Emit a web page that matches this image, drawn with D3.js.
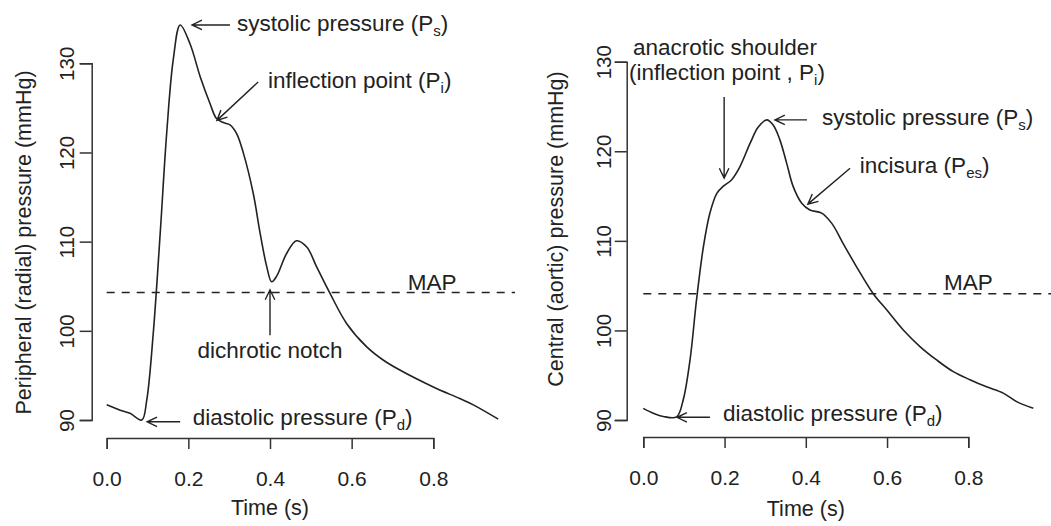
<!DOCTYPE html>
<html><head><meta charset="utf-8">
<script src="https://cdn.jsdelivr.net/npm/d3@7"></script>
<style>
body{margin:0;background:#fff;}
text{font-family:"Liberation Sans",Arial,Helvetica,sans-serif;fill:#222;}
</style></head>
<body><svg id="c" width="1051" height="526"></svg>
<script>
// ---- data ----
const xTicks = [0, 0.2, 0.4, 0.6, 0.8];
const yTicks = [90, 100, 110, 120, 130];

const radialTime = [0,0.033,0.057,0.086,0.098,0.114,0.131,0.147,0.163,0.180,0.204,0.229,0.253,0.269,0.286,0.302,0.318,0.335,0.359,0.376,0.392,0.404,0.416,0.441,0.465,0.490,0.514,0.547,0.588,0.637,0.678,0.718,0.8,0.865,0.898,0.959];
const radialPressure = [91.7,91.1,90.75,90.0,92.2,99.7,110.9,122.2,130.4,134.3,132.2,128.5,125.5,123.8,123.35,123.1,122.15,119.9,115.4,110.9,107.2,105.5,106.1,108.7,110.1,109.4,107.2,104.2,100.8,98.2,96.7,95.6,93.7,92.4,91.7,90.1];
const radialMAP = 104.3;

const aorticTime = [0,0.025,0.049,0.082,0.098,0.115,0.131,0.148,0.164,0.181,0.197,0.217,0.238,0.263,0.283,0.304,0.320,0.336,0.353,0.369,0.390,0.410,0.439,0.464,0.492,0.525,0.566,0.599,0.640,0.681,0.722,0.763,0.804,0.845,0.886,0.919,0.960];
const aorticPressure = [91.3,90.75,90.4,90.35,92.2,96.7,103.4,109.35,113.1,115.3,116.1,116.8,118.3,120.9,122.7,123.5,122.9,121.3,118.65,116.05,114.2,113.45,113.1,111.95,109.7,107.1,104.1,102.3,100.05,98.2,96.7,95.4,94.5,93.7,93.0,92.05,91.3];
const aorticMAP = 104.1;

const radialNotes = [
  {text:"systolic pressure (P", sub:"s", tail:")", t:0.319, v:134.5, anchor:"start", from:[0.302,134.3], to:[0.209,134.3]},
  {text:"inflection point (P", sub:"i", tail:")", t:0.395, v:128.1, anchor:"start", from:[0.371,127.9], to:[0.270,123.6]},
  {text:"dichrotic notch", sub:"", tail:"", t:0.40, v:97.85, anchor:"middle", from:[0.40,99.5], to:[0.40,104.6]},
  {text:"diastolic pressure (P", sub:"d", tail:")", t:0.211, v:90.3, anchor:"start", from:[0.180,89.8], to:[0.099,89.8]},
  {text:"MAP", sub:"", tail:"", t:0.797, v:105.5, anchor:"middle"}
];
const aorticNotes = [
  {text:"anacrotic shoulder", sub:"", tail:"", t:0.201, v:131.6, anchor:"middle"},
  {text:"(inflection point , P", sub:"i", tail:")", t:0.206, v:128.8, anchor:"middle", from:[0.199,126.05], to:[0.199,117.0]},
  {text:"systolic pressure (P", sub:"s", tail:")", t:0.44, v:123.8, anchor:"start", from:[0.403,123.5], to:[0.324,123.5]},
  {text:"incisura (P", sub:"es", tail:")", t:0.533, v:118.5, anchor:"start", from:[0.509,118.1], to:[0.405,114.1]},
  {text:"diastolic pressure (P", sub:"d", tail:")", t:0.196, v:90.8, anchor:"start", from:[0.164,90.3], to:[0.083,90.3]},
  {text:"MAP", sub:"", tail:"", t:0.80, v:105.4, anchor:"middle"}
];

// ---- drawing ----
const svg = d3.select("#c");
const FS = 22.5, TFS = 21.5;

function panel(cfg){
  const x = d3.scaleLinear().domain([0,0.8]).range(cfg.xr);
  const y = d3.scaleLinear().domain([90,130]).range(cfg.yr);
  const g = svg.append("g");

  // y axis
  const ya = g.append("g").attr("transform",`translate(${cfg.yAxisX},0)`)
    .call(d3.axisLeft(y).tickValues(yTicks).tickFormat(d3.format("d")).tickSize(12).tickSizeOuter(12));
  ya.attr("font-family",null).attr("font-size",null);
  ya.select(".domain").attr("stroke","#333").attr("stroke-width",1.5);
  ya.selectAll(".tick line").attr("stroke","#333").attr("stroke-width",1.5);
  ya.selectAll(".tick text").attr("x",null).attr("dy",null)
    .attr("transform",`translate(${cfg.yLabOff},0) rotate(-90)`).attr("dy","0.35em")
    .attr("text-anchor","middle").style("font-size","20.5px").attr("fill","#222");

  // x axis
  const xa = g.append("g").attr("transform",`translate(0,${cfg.xAxisY})`)
    .call(d3.axisBottom(x).tickValues(xTicks).tickFormat(d3.format(".1f")).tickSize(11).tickSizeOuter(11));
  xa.attr("font-family",null).attr("font-size",null);
  xa.select(".domain").attr("stroke","#333").attr("stroke-width",1.5);
  xa.selectAll(".tick line").attr("stroke","#333").attr("stroke-width",1.5);
  xa.selectAll(".tick text").attr("y",41).attr("dy","0.35em")
    .style("font-size","21px").attr("fill","#222");

  // axis titles
  g.append("text").attr("x",x(0.4)).attr("y",cfg.xTitleY).attr("dy","0.35em")
    .attr("text-anchor","middle").style("font-size",TFS+"px").text("Time (s)");
  g.append("text").attr("transform",`translate(${cfg.yTitleX},${cfg.yTitleY}) rotate(-90)`).attr("dy","0.35em")
    .attr("text-anchor","middle").style("font-size",TFS+"px").text(cfg.yTitle);

  // MAP line
  g.append("line").attr("x1",x(0)).attr("x2",cfg.mapEnd)
    .attr("y1",y(cfg.map)).attr("y2",y(cfg.map))
    .attr("stroke","#222").attr("stroke-width",1.4).attr("stroke-dasharray","8,7");

  // curve
  const pts = cfg.t.map((t,i)=>[t,cfg.p[i]]);
  g.append("path").datum(pts)
    .attr("d", d3.line().x(d=>x(d[0])).y(d=>y(d[1])).curve(d3.curveCatmullRom.alpha(0.5)))
    .attr("fill","none").attr("stroke","#222").attr("stroke-width",1.6);

  // annotations
  cfg.notes.forEach(n=>{
    const tx = g.append("text").attr("x",x(n.t)).attr("y",y(n.v)).attr("dy","0.35em")
      .attr("text-anchor",n.anchor).style("font-size",FS+"px");
    tx.append("tspan").text(n.text);
    if(n.sub){
      tx.append("tspan").attr("dy",5).style("font-size","15px").text(n.sub);
      tx.append("tspan").attr("dy",-5).text(n.tail);
    }
    if(n.from){
      const x1=x(n.from[0]), y1=y(n.from[1]), x2=x(n.to[0]), y2=y(n.to[1]);
      const ang=Math.atan2(y2-y1,x2-x1), L=11, a=Math.PI/7;
      g.append("path")
        .attr("d",`M${x1},${y1}L${x2},${y2}M${x2-L*Math.cos(ang-a)},${y2-L*Math.sin(ang-a)}L${x2},${y2}L${x2-L*Math.cos(ang+a)},${y2-L*Math.sin(ang+a)}`)
        .attr("fill","none").attr("stroke","#222").attr("stroke-width",1.4);
    }
  });
}

panel({xr:[106.7,433.3], yr:[420,63.3], yAxisX:91.7, yLabOff:-24.5, xAxisY:438, xTitleY:507,
  yTitleX:23, yTitleY:242.5, yTitle:"Peripheral (radial) pressure (mmHg)",
  map:radialMAP, mapEnd:515, t:radialTime, p:radialPressure, notes:radialNotes});
panel({xr:[643.3,968.3], yr:[420,61.7], yAxisX:626.7, yLabOff:-23, xAxisY:437, xTitleY:508,
  yTitleX:555, yTitleY:229, yTitle:"Central (aortic) pressure (mmHg)",
  map:aorticMAP, mapEnd:1051, t:aorticTime, p:aorticPressure, notes:aorticNotes});
</script></body></html>
